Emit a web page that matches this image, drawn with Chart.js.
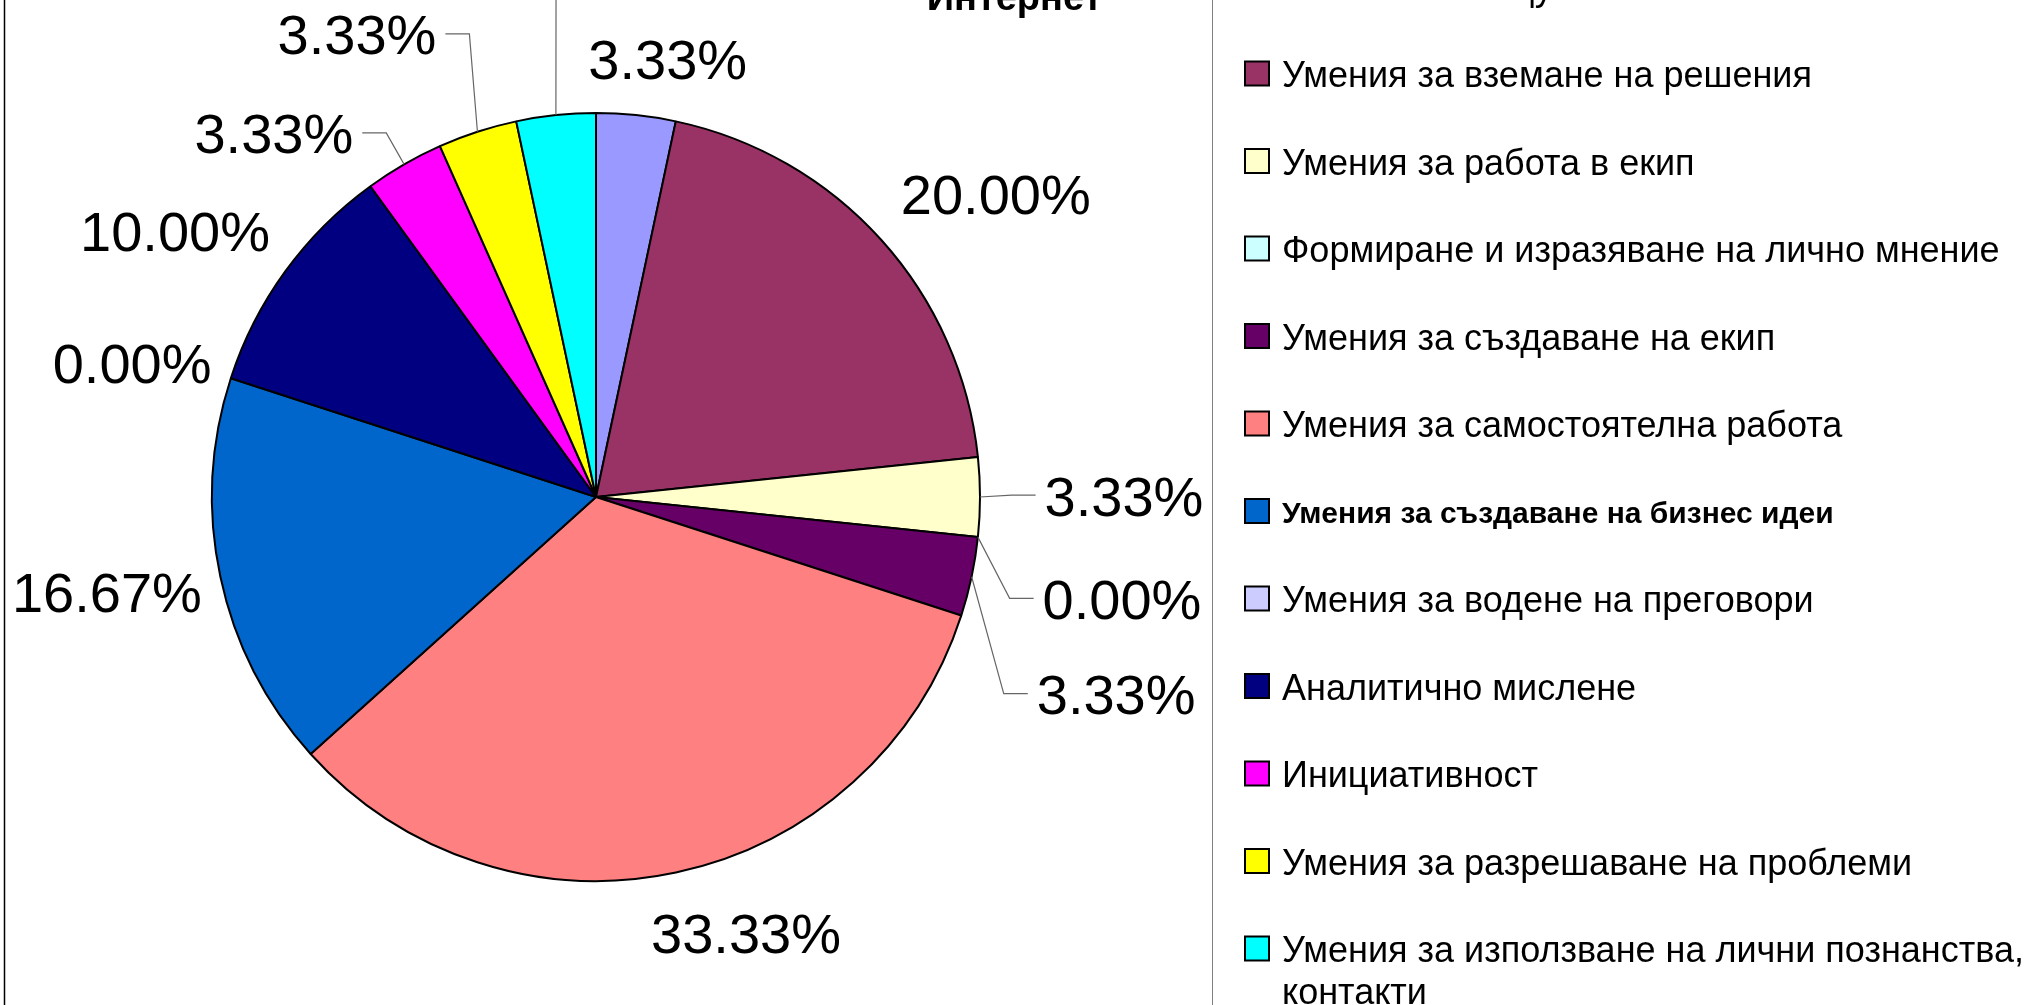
<!DOCTYPE html>
<html>
<head>
<meta charset="utf-8">
<script src="https://cdn.jsdelivr.net/npm/chart.js@4.4.0/dist/chart.umd.min.js"></script>
<style>
    html, body { margin: 0; padding: 0; background: #fff; overflow: hidden; }
    #wrap { position: relative; width: 2029px; height: 1005px; overflow: hidden; }
    /* the original picture is cropped: title and first legend row sit above the frame */
    #wrap canvas { position: absolute; left: 0; top: -95px; }
</style>
</head>
<body>
<div id="wrap"><canvas id="skillsChart" width="2029" height="1100"></canvas></div>
<script>
// Chart data
const skills = [
    'Умения за общуване',
    'Умения за вземане на решения',
    'Умения за работа в екип',
    'Формиране и изразяване на лично мнение',
    'Умения за създаване на екип',
    'Умения за самостоятелна работа',
    'Умения за създаване на бизнес идеи',
    'Умения за водене на преговори',
    'Аналитично мислене',
    'Инициативност',
    'Умения за разрешаване на проблеми',
    'Умения за използване на лични познанства, контакти'
];
const shares = [3.33, 20.00, 3.33, 0.00, 3.33, 33.33, 16.67, 0.00, 10.00, 3.33, 3.33, 3.33];
const sliceColors = ['#9999FF', '#993366', '#FFFFCC', '#CCFFFF', '#660066', '#FF8080',
                     '#0066CC', '#CCCCFF', '#000080', '#FF00FF', '#FFFF00', '#00FFFF'];
const titleText = 'Интернет';

// Where each percentage label sits: angle from top (deg, clockwise) and distance in radii
const labelSpots = [
    { angle: 9.3,   dist: 1.156, leader: false },
    { angle: 52.8,  dist: 1.307, leader: false },
    { angle: 89.8,  dist: 1.375, leader: true },
    { angle: 100.9, dist: 1.395, leader: true },
    { angle: 110.7, dist: 1.448, leader: true },
    { angle: 161.0, dist: 1.200, leader: false },
    { angle: 259.1, dist: 1.297, leader: false },
    { angle: 286.2, dist: 1.258, leader: false },
    { angle: 302.3, dist: 1.297, leader: false },
    { angle: 318.5, dist: 1.266, leader: true },
    { angle: 332.7, dist: 1.357, leader: true },
    { angle: 344.7, dist: 1.503, leader: true }
];

const FONT = '"Liberation Sans", Arial, sans-serif';

// Percent labels with leader lines
const pieLabels = {
    id: 'pieLabels',
    afterDatasetsDraw(chart) {
        const ctx = chart.ctx;
        const arcs = chart.getDatasetMeta(0).data;
        ctx.save();
        ctx.font = '56px ' + FONT;
        ctx.textAlign = 'center';
        ctx.textBaseline = 'middle';
        arcs.forEach(function(arc, i) {
            const p = arc.getProps(['x', 'y', 'outerRadius', 'startAngle', 'endAngle'], true);
            const spot = labelSpots[i];
            const text = shares[i].toFixed(2) + '%';
            const a = spot.angle * Math.PI / 180;
            const lx = p.x + Math.sin(a) * spot.dist * p.outerRadius;
            const ly = p.y - Math.cos(a) * spot.dist * p.outerRadius;
            if (spot.leader) {
                const mid = (p.startAngle + p.endAngle) / 2;
                const sx = p.x + Math.cos(mid) * p.outerRadius;
                const sy = p.y + Math.sin(mid) * p.outerRadius;
                const half = ctx.measureText(text).width / 2;
                const side = lx > p.x ? -1 : 1;
                const ex = lx + side * (half + 9);
                const bx = ex + side * 24;
                ctx.beginPath();
                ctx.moveTo(sx, sy);
                ctx.lineTo(bx, ly);
                ctx.lineTo(ex, ly);
                ctx.strokeStyle = '#666';
                ctx.lineWidth = 1.2;
                ctx.stroke();
            }
            ctx.fillStyle = '#000';
            ctx.fillText(text, lx, ly + 5);
        });
        ctx.restore();
    }
};

// Title, frame and legend on the right, drawn from the chart's own data
const sideLegend = {
    id: 'sideLegend',
    afterDraw(chart) {
        const ctx = chart.ctx;
        const ds = chart.data.datasets[0];
        const boxX = 1245, textX = 1282, firstY = 81, step = 87.5, maxW = 745;
        ctx.save();
        // title centred over the whole chart
        ctx.fillStyle = '#000';
        ctx.font = 'bold 38px ' + FONT;
        ctx.textAlign = 'center';
        ctx.textBaseline = 'alphabetic';
        ctx.fillText(titleText, chart.width / 2, 105);

        // frame lines
        ctx.strokeStyle = '#000';
        ctx.lineWidth = 1.5;
        ctx.beginPath();
        ctx.moveTo(4.5, 0);
        ctx.lineTo(4.5, chart.height);
        ctx.stroke();
        ctx.strokeStyle = '#808080';
        ctx.lineWidth = 1;
        ctx.beginPath();
        ctx.moveTo(1212.5, 0);
        ctx.lineTo(1212.5, chart.height);
        ctx.stroke();

        ctx.textAlign = 'left';
        ctx.textBaseline = 'middle';
        chart.data.labels.forEach(function(label, i) {
            const y = firstY + i * step;
            ctx.font = (i === 6 ? 'bold 30px ' : '36px ') + FONT;
            // wrap long labels
            const words = label.split(' ');
            const lines = [];
            let line = '';
            words.forEach(function(w) {
                const test = line ? line + ' ' + w : w;
                if (line && ctx.measureText(test).width > maxW) {
                    lines.push(line);
                    line = w;
                } else {
                    line = test;
                }
            });
            lines.push(line);
            ctx.fillStyle = ds.backgroundColor[i];
            ctx.fillRect(boxX, y - 12, 24, 24);
            ctx.strokeStyle = '#000';
            ctx.lineWidth = 2;
            ctx.strokeRect(boxX, y - 12, 24, 24);
            ctx.fillStyle = '#000';
            lines.forEach(function(l, k) {
                ctx.fillText(l, textX, y + 4 + k * 42);
            });
        });
        ctx.restore();
    }
};

const ctx = document.getElementById('skillsChart').getContext('2d');
new Chart(ctx, {
    type: 'pie',
    data: {
        labels: skills,
        datasets: [{
            data: shares,
            backgroundColor: sliceColors,
            borderColor: '#000',
            borderWidth: 2,
            radius: 384
        }]
    },
    options: {
        responsive: false,
        animation: false,
        layout: {
            padding: { left: 0, right: 837, top: 115, bottom: 31 }
        },
        plugins: {
            legend: { display: false },
            tooltip: { enabled: false },
            title: { display: false }
        }
    },
    plugins: [pieLabels, sideLegend]
});
</script>
</body>
</html>
